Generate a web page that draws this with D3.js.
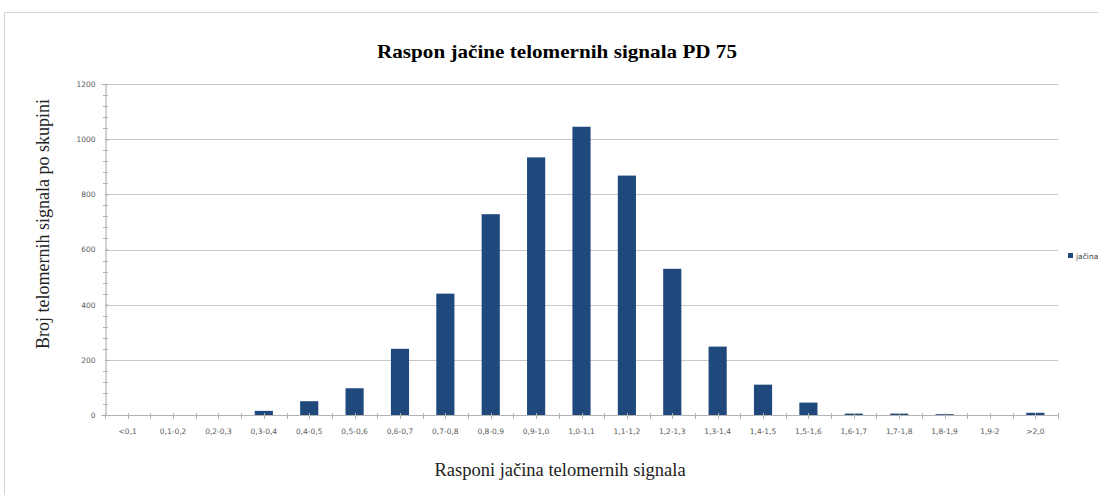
<!DOCTYPE html>
<html>
<head>
<meta charset="utf-8">
<script src="https://cdn.jsdelivr.net/npm/d3@7"></script>
<style>
  html, body { margin: 0; padding: 0; background: #fff; overflow: hidden; }
</style>
</head>
<body>
<div id="chart"></div>
<script>
const categories = ['<0,1', '0,1-0,2', '0,2-0,3', '0,3-0,4', '0,4-0,5', '0,5-0,6', '0,6-0,7',
  '0,7-0,8', '0,8-0,9', '0,9-1,0', '1,0-1,1', '1,1-1,2', '1,2-1,3', '1,3-1,4', '1,4-1,5',
  '1,5-1,6', '1,6-1,7', '1,7-1,8', '1,8-1,9', '1,9-2', '>2,0'];
const values = [0, 0, 0, 15, 50, 97, 240, 440, 728, 934, 1045, 868, 530, 248, 110, 45, 5, 5, 3, 0, 8];
const yTicks = [0, 200, 400, 600, 800, 1000, 1200];
const seriesName = 'jačina';

const width = 1098,
  height = 495,
  margin = {top: 84, right: 40, bottom: 80, left: 105};

const svg = d3.select('#chart')
  .append('svg')
  .attr('width', width)
  .attr('height', height)
  .style('overflow', 'hidden');

// outer chart frame
svg.append('rect')
  .attr('x', 4.5).attr('y', 12.5)
  .attr('width', 1200).attr('height', 600)
  .attr('fill', 'none')
  .attr('stroke', '#d4d4d4');

const x = d3.scaleBand()
  .domain(categories)
  .range([margin.left, 1058])
  .paddingInner(0.6)
  .paddingOuter(0.3);

const y = d3.scaleLinear()
  .domain([0, 1200])
  .range([415, margin.top]);

// gridlines
svg.append('g')
  .selectAll('line')
  .data(yTicks.slice(1))
  .enter().append('line')
  .attr('x1', margin.left).attr('x2', 1058)
  .attr('y1', d => Math.round(y(d)) + 0.5)
  .attr('y2', d => Math.round(y(d)) + 0.5)
  .attr('stroke', '#c8c8c8');

// y axis
const yAxis = svg.append('g')
  .attr('transform', `translate(${margin.left + 0.5},0)`)
  .call(d3.axisLeft(y).tickValues(yTicks).tickFormat(d3.format('d')).tickSize(4).tickPadding(6));
yAxis.select('.domain').attr('stroke', '#a6a6a6');
yAxis.selectAll('.tick line').attr('stroke', '#a6a6a6').attr('x2', 3);
yAxis.selectAll('text')
  .attr('fill', '#595959')
  .style('font-family', '"DejaVu Sans", sans-serif')
  .style('font-size', '7.5px');

// y minor ticks
svg.append('g')
  .selectAll('line')
  .data(d3.range(0, 1201, 40).filter(d => d % 200 !== 0))
  .enter().append('line')
  .attr('x1', margin.left - 2).attr('x2', margin.left + 3)
  .attr('y1', d => Math.round(y(d)) + 0.5)
  .attr('y2', d => Math.round(y(d)) + 0.5)
  .attr('stroke', '#b0b0b0');

// bars
svg.append('g')
  .selectAll('rect')
  .data(values)
  .enter().append('rect')
  .attr('x', (d, i) => x(categories[i]))
  .attr('y', d => y(d))
  .attr('width', x.bandwidth())
  .attr('height', d => y(0) - y(d))
  .attr('fill', '#1f497d');

// x axis line
const step = x.step();
svg.append('line')
  .attr('x1', margin.left).attr('x2', 1058)
  .attr('y1', y(0) + 0.5).attr('y2', y(0) + 0.5)
  .attr('stroke', '#b4b4b4');

// x ticks at boundaries and centers
const xTickPos = d3.range(0, categories.length * 2 + 1).map(k => margin.left + k * step / 2);
svg.append('g')
  .selectAll('line')
  .data(xTickPos)
  .enter().append('line')
  .attr('x1', d => Math.round(d) + 0.5).attr('x2', d => Math.round(d) + 0.5)
  .attr('y1', y(0) - 2).attr('y2', y(0) + 4)
  .attr('stroke', '#b4b4b4');

// x labels
svg.append('g')
  .selectAll('text')
  .data(categories)
  .enter().append('text')
  .attr('x', d => x(d) + x.bandwidth() / 2)
  .attr('y', 434)
  .attr('text-anchor', 'middle')
  .attr('fill', '#595959')
  .style('font-family', '"DejaVu Sans", sans-serif')
  .style('font-size', '7.5px')
  .text(d => d);

// title
svg.append('text')
  .attr('x', 557).attr('y', 58)
  .attr('text-anchor', 'middle')
  .attr('textLength', 360)
  .attr('lengthAdjust', 'spacingAndGlyphs')
  .style('font-family', '"Liberation Serif", "Times New Roman", serif')
  .style('font-weight', 'bold')
  .style('font-size', '19px')
  .text('Raspon jačine telomernih signala PD 75');

// axis titles
svg.append('text')
  .attr('transform', 'translate(49,224) rotate(-90)')
  .attr('text-anchor', 'middle')
  .attr('fill', '#222')
  .style('font-family', '"Liberation Serif", "Times New Roman", serif')
  .style('font-size', '18px')
  .text('Broj telomernih signala po skupini');

svg.append('text')
  .attr('x', 560).attr('y', 476)
  .attr('text-anchor', 'middle')
  .attr('fill', '#222')
  .style('font-family', '"Liberation Serif", "Times New Roman", serif')
  .style('font-size', '18.5px')
  .text('Rasponi jačina telomernih signala');

// legend
const legend = svg.append('g').attr('transform', 'translate(1068,253)');
legend.append('rect')
  .attr('width', 5).attr('height', 5)
  .attr('fill', '#1f497d');
legend.append('text')
  .attr('x', 8).attr('y', 5.5)
  .attr('fill', '#404040')
  .style('font-family', '"DejaVu Sans", sans-serif')
  .style('font-size', '7.5px')
  .text(seriesName);
</script>
</body>
</html>
